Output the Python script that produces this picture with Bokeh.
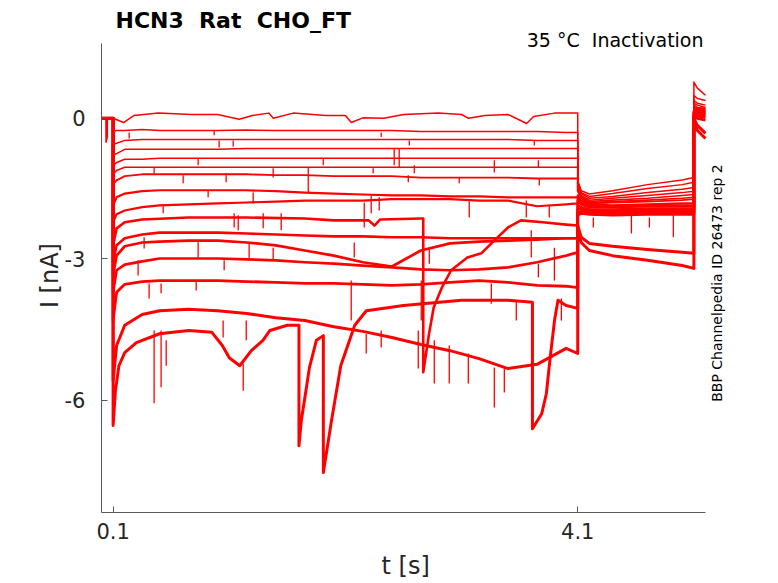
from bokeh.plotting import figure
from bokeh.models import Range1d, FixedTicker, Label
from bokeh.embed import file_html
from bokeh.resources import INLINE

# ---------------- data (t in s, I in nA) ----------------
x_ticks = [0.1, 4.1]
x_tick_labels = ["0.1", "4.1"]
y_ticks = [0, -3, -6]
y_tick_labels = ["0", "-3", "-6"]
x_limits = (0.0, 5.2)
y_limits = (-8.39, 1.58)

t_pre = [0.0, 0.1]
i_pre = [-0.01, -0.01]
t1_pre = [0.0, 0.038, 0.039, 0.05, 0.051, 0.1]
i1_pre = [-0.01, -0.01, -0.52, -0.40, -0.01, -0.01]

t_pulse = [0.1, 0.13, 0.2, 0.35, 0.5, 0.75, 1.0, 1.25, 1.5, 1.75, 2.0, 2.25,
           2.5, 2.75, 3.0, 3.25, 3.5, 3.75, 4.0, 4.1]
t_tail = [4.1, 4.13, 4.2, 4.4, 4.7, 5.0, 5.1]
t_post = [5.1, 5.13, 5.2]

t1_pulse = [0.10, 0.19, 0.28, 0.49, 0.77, 1.0, 1.185, 1.3, 1.44, 1.48, 1.65, 1.93,
            2.1, 2.15, 2.25, 2.43, 2.6, 2.9, 3.1, 3.16, 3.3, 3.5, 3.66, 3.72, 3.9, 4.1]
i1_pulse = [-0.01, -0.10, 0.05, 0.10, 0.07, 0.07, -0.03, 0.05, 0.10, -0.01, 0.10, 0.05,
            0.05, -0.10, 0.0, -0.01, 0.07, 0.10, 0.07, -0.01, 0.05, 0.07, -0.12, 0.03, 0.10, 0.10]
i2_pulse = [-0.29, -0.27, -0.27, -0.25, -0.27, -0.27, -0.27, -0.26, -0.27, -0.27, -0.27, -0.27,
            -0.27, -0.29, -0.29, -0.29, -0.29, -0.29, -0.31, -0.31]
i3_pulse = [-0.56, -0.54, -0.48, -0.46, -0.46, -0.46, -0.46, -0.46, -0.46, -0.46, -0.46, -0.46,
            -0.46, -0.46, -0.46, -0.46, -0.46, -0.48, -0.48, -0.48]
i4_pulse = [-0.80, -0.76, -0.67, -0.67, -0.67, -0.67, -0.67, -0.65, -0.65, -0.65, -0.65, -0.65,
            -0.65, -0.65, -0.65, -0.65, -0.65, -0.65, -0.65, -0.65]
i5_pulse = [-1.01, -0.95, -0.88, -0.88, -0.86, -0.86, -0.86, -0.86, -0.86, -0.86, -0.86, -0.86,
            -0.86, -0.86, -0.86, -0.86, -0.86, -0.86, -0.86, -0.86]
i6_pulse = [-1.20, -1.12, -1.05, -1.05, -1.05, -1.05, -1.05, -1.05, -1.05, -1.05, -1.05, -1.05,
            -1.05, -1.05, -1.05, -1.05, -1.05, -1.05, -1.05, -1.05]
i7_pulse = [-1.41, -1.33, -1.24, -1.20, -1.20, -1.20, -1.20, -1.20, -1.22, -1.22, -1.24, -1.24,
            -1.24, -1.27, -1.27, -1.27, -1.27, -1.29, -1.29, -1.29]
i8_pulse = [-1.86, -1.69, -1.61, -1.56, -1.54, -1.54, -1.54, -1.54, -1.56, -1.59, -1.61, -1.63,
            -1.65, -1.65, -1.67, -1.67, -1.69, -1.69, -1.69, -1.69]
i9_pulse = [-2.22, -2.05, -1.97, -1.90, -1.86, -1.84, -1.82, -1.80, -1.78, -1.76, -1.76, -1.76,
            -1.73, -1.73, -1.73, -1.76, -1.76, -1.88, -1.84, -1.82]
t10_pulse = [0.1, 0.13, 0.2, 0.35, 0.75, 1.25, 1.75, 2.0, 2.3, 2.35, 2.4, 2.75, 2.77, 2.77,
             2.82, 2.86, 2.93, 3.01, 3.15, 3.27, 3.38, 3.5, 3.61, 3.8, 4.0, 4.1]
i10_pulse = [-2.71, -2.35, -2.22, -2.16, -2.12, -2.12, -2.14, -2.18, -2.18, -2.29, -2.16, -2.14,
             -2.14, -5.41, -4.59, -4.03, -3.61, -3.24, -2.97, -2.88, -2.61, -2.33, -2.18, -2.22,
             -2.27, -2.29]
i11_pulse = [-3.07, -2.71, -2.56, -2.48, -2.44, -2.44, -2.44, -2.46, -2.48, -2.50, -2.52, -2.52,
             -2.54, -2.54, -2.56, -2.56, -2.56, -2.56, -2.56, -2.56]
i12_pulse = [-3.35, -2.93, -2.73, -2.65, -2.63, -2.61, -2.61, -2.65, -2.71, -2.82, -2.93, -3.07,
             -3.16, -2.82, -2.67, -2.63, -2.61, -2.59, -2.56, -2.56]
i13_pulse = [-3.71, -3.24, -3.12, -3.05, -2.99, -2.99, -2.99, -3.01, -3.03, -3.07, -3.10, -3.14,
             -3.18, -3.22, -3.24, -3.22, -3.18, -3.07, -2.93, -2.86]
i14_pulse = [-4.31, -3.71, -3.54, -3.48, -3.46, -3.46, -3.46, -3.48, -3.50, -3.52, -3.52, -3.54,
             -3.56, -3.54, -3.50, -3.46, -3.50, -3.56, -3.58, -3.61]
i15_pulse = [-5.59, -4.84, -4.41, -4.18, -4.10, -4.07, -4.10, -4.16, -4.25, -4.31, -4.44, -4.54,
             -4.67, -4.82, -4.95, -5.12, -5.33, -5.24, -4.90, -5.01]
t16_pulse = [0.1, 0.12, 0.15, 0.2, 0.3, 0.5, 0.75, 0.95, 1.04, 1.1, 1.19, 1.29, 1.39, 1.45, 1.6,
             1.70, 1.70, 1.72, 1.76, 1.79, 1.85, 1.91, 1.91, 1.98, 2.06, 2.18, 2.28, 2.6, 3.1,
             3.5, 3.71, 3.71, 3.79, 3.83, 3.86, 3.9, 3.93, 4.0, 4.1]
i16_pulse = [-6.54, -5.80, -5.27, -4.99, -4.78, -4.59, -4.52, -4.56, -4.84, -5.10, -5.27, -4.95,
             -4.73, -4.52, -4.41, -4.41, -6.97, -6.44, -5.80, -5.31, -4.73, -4.63, -7.54, -6.44,
             -5.27, -4.41, -4.10, -3.99, -3.88, -3.88, -3.92, -6.61, -6.29, -5.86, -5.16, -4.31,
             -3.88, -3.99, -4.05]

i1_tail = [-1.33, -1.55, -1.62, -1.55, -1.42, -1.32, -1.27]
i2_tail = [-1.37, -1.59, -1.67, -1.61, -1.50, -1.42, -1.37]
i3_tail = [-1.41, -1.61, -1.71, -1.67, -1.59, -1.52, -1.48]
i4_tail = [-1.46, -1.65, -1.75, -1.71, -1.65, -1.59, -1.56]
i5_tail = [-1.50, -1.67, -1.78, -1.75, -1.71, -1.65, -1.63]
i6_tail = [-1.54, -1.69, -1.80, -1.78, -1.75, -1.71, -1.69]
i7_tail = [-1.56, -1.71, -1.82, -1.80, -1.78, -1.75, -1.73]
i8_tail = [-1.65, -1.76, -1.84, -1.86, -1.84, -1.82, -1.82]
i9_tail = [-1.71, -1.80, -1.86, -1.88, -1.86, -1.86, -1.86]
i10_tail = [-1.76, -1.84, -1.90, -1.90, -1.88, -1.88, -1.88]
i11_tail = [-1.86, -1.90, -1.95, -1.95, -1.93, -1.93, -1.93]
i12_tail = [-1.93, -1.95, -1.99, -1.99, -1.97, -1.97, -1.97]
i13_tail = [-2.01, -1.99, -2.01, -2.03, -2.01, -2.01, -2.01]
i14_tail = [-2.07, -2.03, -2.05, -2.07, -2.05, -2.05, -2.05]
i15_tail = [-2.29, -2.54, -2.67, -2.73, -2.80, -2.86, -2.88]
i16_tail = [-2.39, -2.65, -2.82, -2.93, -3.03, -3.14, -3.20]

i1_post = [0.76, 0.63, 0.48]
i2_post = [0.48, 0.41, 0.37]
i3_post = [0.37, 0.31, 0.27]
i4_post = [0.31, 0.27, 0.22]
i5_post = [0.27, 0.22, 0.20]
i6_post = [0.22, 0.20, 0.18]
i7_post = [0.20, 0.18, 0.16]
i8_post = [0.16, 0.16, 0.14]
i9_post = [0.14, 0.14, 0.12]
i10_post = [0.12, 0.12, 0.10]
i11_post = [0.10, 0.10, 0.07]
i12_post = [0.07, 0.07, 0.05]
i13_post = [0.05, 0.03, 0.01]
i14_post = [0.03, -0.01, -0.05]
i15_post = [-0.01, -0.16, -0.33]
i16_post = [-0.05, -0.27, -0.44]

# brief downward transients (time, level, tip)
spike_t = [0.238, 0.453, 0.832, 1.013, 1.134, 0.970, 1.909, 1.073, 1.478, 0.703, 1.780,
           2.408, 2.650, 3.726, 2.520, 2.563, 2.339, 2.693, 3.382, 3.761, 2.641, 3.080,
           3.769, 3.166, 3.657, 2.262, 2.322, 2.391, 3.855, 0.531, 0.918, 1.306, 1.142,
           1.177, 1.392, 1.547, 0.832, 0.367, 1.271, 1.478, 0.315, 1.056, 2.176, 2.822,
           3.700, 3.899, 2.150, 2.753, 3.356, 3.761, 0.410, 0.513, 0.815, 0.453, 0.513,
           0.557, 1.220, 1.047, 1.246, 2.279, 2.408, 2.865, 2.994, 3.158, 3.382, 3.468,
           3.571, 3.959, 2.727, 4.234, 4.562, 4.717, 4.923]
spike_top = [-0.31, -1.05, -0.86, -0.48, -0.48, -0.27, -0.86, -1.18, -1.07, -1.22, -1.05,
             -0.31, -0.48, -0.48, -0.65, -0.65, -1.07, -1.01, -0.90, -0.90, -1.22, -1.27,
             -1.29, -1.76, -1.76, -1.80, -1.65, -1.69, -1.84, -1.86, -1.54, -1.59, -2.03,
             -2.07, -2.03, -2.03, -2.61, -2.54, -2.67, -2.76, -3.03, -3.03, -2.65, -2.76,
             -2.39, -2.76, -3.46, -3.46, -3.52, -3.10, -3.52, -3.52, -3.46, -4.52, -4.52,
             -4.73, -5.22, -4.31, -4.31, -4.59, -4.52, -4.73, -4.84, -5.01, -5.31, -5.33,
             -3.88, -3.84, -4.52, -2.12, -2.03, -2.12, -2.03]
spike_bot = [-0.44, -1.18, -1.01, -0.63, -0.61, -0.37, -1.01, -1.37, -1.27, -1.39, -1.59,
             -0.41, -0.59, -0.59, -1.01, -1.05, -1.18, -1.18, -1.16, -1.05, -1.37, -1.39,
             -1.44, -2.12, -2.12, -2.33, -2.03, -1.97, -2.12, -2.03, -1.69, -1.82, -2.33,
             -2.39, -2.35, -2.39, -2.97, -2.78, -3.03, -3.03, -3.35, -3.24, -2.97, -3.10,
             -2.97, -3.46, -4.31, -4.31, -3.95, -3.39, -3.84, -3.73, -3.67, -6.07, -5.73,
             -5.27, -5.80, -4.67, -4.73, -5.01, -4.88, -5.65, -5.65, -5.65, -6.16, -5.84,
             -4.31, -4.31, -5.33, -2.33, -2.46, -2.33, -2.54]

title_text = "HCN3 \u00a0Rat \u00a0CHO_FT"
cond_text = "35 °C \u00a0Inactivation"
id_text = "BBP Channelpedia ID 26473 rep 2"
x_label = "t [s]"
y_label = "I [nA]"

# ---------------- figure ----------------
W, H = 778, 583
left, bottom = 101, 71            # frame starts at the axes; it reaches the top/right edges
frame_w, frame_h = W - left, H - bottom
px_per_s = 604 / (x_limits[1] - x_limits[0])
px_per_nA = 469 / (y_limits[1] - y_limits[0])
x_end = x_limits[0] + frame_w / px_per_s
y_end = y_limits[0] + frame_h / px_per_nA

p = figure(width=W, height=H, output_backend="svg", toolbar_location=None,
           x_range=Range1d(x_limits[0], x_end), y_range=Range1d(y_limits[0], y_end),
           min_border_left=left, min_border_right=0, min_border_top=0,
           min_border_bottom=bottom)
p.outline_line_color = None
p.grid.visible = False
p.background_fill_color = "white"
p.border_fill_color = "white"

red = "#ff0000"
traces = [
    (t1_pre, i1_pre, t1_pulse, i1_pulse, i1_tail, i1_post, 1.5),
    (t_pre, i_pre, t_pulse, i2_pulse, i2_tail, i2_post, 1.5),
    (t_pre, i_pre, t_pulse, i3_pulse, i3_tail, i3_post, 1.5),
    (t_pre, i_pre, t_pulse, i4_pulse, i4_tail, i4_post, 1.5),
    (t_pre, i_pre, t_pulse, i5_pulse, i5_tail, i5_post, 1.6),
    (t_pre, i_pre, t_pulse, i6_pulse, i6_tail, i6_post, 1.6),
    (t_pre, i_pre, t_pulse, i7_pulse, i7_tail, i7_post, 1.8),
    (t_pre, i_pre, t_pulse, i8_pulse, i8_tail, i8_post, 2.2),
    (t_pre, i_pre, t_pulse, i9_pulse, i9_tail, i9_post, 2.2),
    (t_pre, i_pre, t10_pulse, i10_pulse, i10_tail, i10_post, 2.6),
    (t_pre, i_pre, t_pulse, i11_pulse, i11_tail, i11_post, 2.6),
    (t_pre, i_pre, t_pulse, i12_pulse, i12_tail, i12_post, 2.7),
    (t_pre, i_pre, t_pulse, i13_pulse, i13_tail, i13_post, 2.7),
    (t_pre, i_pre, t_pulse, i14_pulse, i14_tail, i14_post, 2.8),
    (t_pre, i_pre, t_pulse, i15_pulse, i15_tail, i15_post, 3.0),
    (t_pre, i_pre, t16_pulse, i16_pulse, i16_tail, i16_post, 3.0),
]
for tp, ip, tpu, ipu, itl, ipo, w in traces:
    xs = list(tp) + list(tpu) + list(t_tail) + list(t_post)
    ys = list(ip) + list(ipu) + list(itl) + list(ipo)
    p.line(xs, ys, line_color=red, line_width=w, line_join="round")

p.segment(x0=spike_t, y0=spike_top, x1=spike_t, y1=spike_bot,
          line_color=red, line_width=1.3)

# axes
axis_col = "#5a5a5a"
txt_col = "#262626"
for ax in (p.xaxis[0], p.yaxis[0]):
    ax.axis_line_color = axis_col
    ax.axis_line_width = 1
    ax.major_tick_line_color = axis_col
    ax.major_tick_in = 6
    ax.major_tick_out = 0
    ax.minor_tick_line_color = None
    ax.major_label_text_font = "DejaVu Sans"
    ax.major_label_text_font_size = "21px"
    ax.major_label_text_color = txt_col
    ax.axis_label_text_font = "DejaVu Sans"
    ax.axis_label_text_font_size = "24px"
    ax.axis_label_text_font_style = "normal"
    ax.axis_label_text_color = txt_col
p.xaxis.bounds = x_limits
p.yaxis.bounds = y_limits
p.xaxis.ticker = FixedTicker(ticks=x_ticks)
p.xaxis.major_label_overrides = dict(zip(x_ticks, x_tick_labels))
p.xaxis.major_label_standoff = 10
# trailing no-break spaces centre the label under the bounded axis, as in the reference
p.xaxis.axis_label = x_label + "\u00a0" * 9
p.xaxis.axis_label_standoff = 10
p.yaxis.ticker = FixedTicker(ticks=y_ticks)
p.yaxis.major_label_overrides = dict(zip(y_ticks, y_tick_labels))
p.yaxis.major_label_standoff = 16
p.yaxis.axis_label = y_label + "\u00a0" * 5
p.yaxis.axis_label_standoff = -2

# texts
p.add_layout(Label(x=0.1205, y=2.07, text=title_text, text_font="DejaVu Sans",
                   text_font_size="22px", text_font_style="bold", text_color="black",
                   text_baseline="alphabetic", text_align="left"))
p.add_layout(Label(x=5.183, y=1.645, text=cond_text, text_font="DejaVu Sans",
                   text_font_size="19px", text_color="black",
                   text_baseline="alphabetic", text_align="right"))
p.add_layout(Label(x=5.299, y=-3.511, text=id_text,
                   text_font="DejaVu Sans", text_font_size="14px", text_color="black",
                   angle=1.5708, text_align="center", text_baseline="middle"))

open("out.html", "w").write(file_html(p, INLINE))
